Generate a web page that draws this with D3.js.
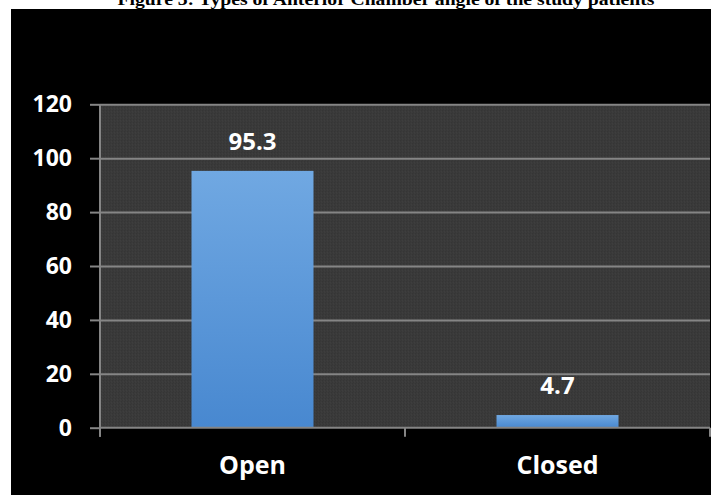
<!DOCTYPE html>
<html>
<head>
<meta charset="utf-8">
<script src="https://cdn.jsdelivr.net/npm/d3@7"></script>
<style>
  html, body { margin: 0; padding: 0; background: #ffffff; }
  svg { display: block; }
</style>
</head>
<body>
<svg id="chart" width="726" height="495"></svg>
<script>
// Anterior chamber angle types (% of patients)
const categories = ["Open", "Closed"];
const percentages = [95.3, 4.7];
const valueLabels = ["95.3", "4.7"];
const yTicks = [0, 20, 40, 60, 80, 100, 120];
const titleText = "Figure 3: Types of Anterior Chamber angle of the study patients";

const W = 726, H = 495;
const margin = { top: 104.3, right: 16, bottom: 67.3, left: 100 };
const innerW = W - margin.left - margin.right;
const innerH = H - margin.top - margin.bottom;

const svg = d3.select("#chart");
const defs = svg.append("defs");

// fine woven texture for the plot area
const pat = defs.append("pattern")
  .attr("id", "weave").attr("patternUnits", "userSpaceOnUse")
  .attr("width", 3).attr("height", 3);
pat.append("rect").attr("width", 3).attr("height", 3).attr("fill", "#3a3a3a");
pat.append("rect").attr("x", 0).attr("y", 0).attr("width", 1).attr("height", 1).attr("fill", "#333333");
pat.append("rect").attr("x", 2).attr("y", 1).attr("width", 1).attr("height", 1).attr("fill", "#404040");
pat.append("rect").attr("x", 1).attr("y", 2).attr("width", 1).attr("height", 1).attr("fill", "#353535");

// bar fill, lighter at the top
const grad = defs.append("linearGradient")
  .attr("id", "barFill").attr("x1", 0).attr("y1", 0).attr("x2", 0).attr("y2", 1);
grad.append("stop").attr("offset", "0%").attr("stop-color", "#70a8e2");
grad.append("stop").attr("offset", "100%").attr("stop-color", "#4888d0");

// caption above the dark panel
svg.append("text")
  .attr("x", 386).attr("y", 4.5)
  .attr("text-anchor", "middle")
  .attr("font-family", "'Liberation Serif', 'Times New Roman', serif")
  .attr("font-weight", "bold")
  .attr("font-size", 16)
  .attr("textLength", 537).attr("lengthAdjust", "spacingAndGlyphs")
  .attr("fill", "#000")
  .text(titleText);

// dark panel
svg.append("rect")
  .attr("x", 11).attr("y", 9).attr("width", 700).attr("height", H - 9)
  .attr("fill", "#000");

const g = svg.append("g").attr("transform", `translate(${margin.left},${margin.top})`);

const x = d3.scaleBand().domain(categories).range([0, innerW])
  .paddingInner(0.6).paddingOuter(0.3);
const y = d3.scaleLinear().domain([0, 120]).range([innerH, 0]);

// plot background
g.append("rect").attr("width", innerW).attr("height", innerH).attr("fill", "url(#weave)");

// horizontal gridlines
g.append("g")
  .call(d3.axisLeft(y).tickValues(yTicks.filter(d => d > 0)).tickSize(-innerW).tickFormat(""))
  .call(s => s.select(".domain").remove())
  .call(s => s.selectAll("line").attr("stroke", "#858585").attr("stroke-width", 2));

// bars
g.selectAll("rect.bar")
  .data(categories)
  .join("rect")
  .attr("class", "bar")
  .attr("x", d => x(d))
  .attr("width", x.bandwidth())
  .attr("y", (d, i) => y(percentages[i]))
  .attr("height", (d, i) => y(0) - y(percentages[i]))
  .attr("fill", "url(#barFill)");

const fontFamily = "'Open Sans', 'Noto Sans', sans-serif";

// value labels
g.selectAll("text.val")
  .data(categories)
  .join("text")
  .attr("class", "val")
  .attr("x", d => x(d) + x.bandwidth() / 2)
  .attr("y", (d, i) => y(percentages[i]) - 21)
  .attr("text-anchor", "middle")
  .attr("font-family", fontFamily).attr("font-weight", "bold").attr("font-size", 24)
  .attr("fill", "#fff")
  .text((d, i) => valueLabels[i]);

// y axis
const yAxis = g.append("g")
  .call(d3.axisLeft(y).tickValues(yTicks).tickSize(10).tickPadding(18).tickFormat(d3.format("d")));
yAxis.select(".domain").remove();
yAxis.selectAll("line").attr("stroke", "#858585").attr("stroke-width", 2);
yAxis.selectAll("text")
  .attr("fill", "#fff").attr("font-family", fontFamily).attr("font-weight", "bold").attr("font-size", 23);
g.append("line")
  .attr("x1", 0).attr("x2", 0).attr("y1", 0).attr("y2", innerH + 9)
  .attr("stroke", "#858585").attr("stroke-width", 2);

// x axis: baseline, boundary ticks and category labels
const xAxis = g.append("g").attr("transform", `translate(0,${innerH})`)
  .call(d3.axisBottom(x).tickSize(0).tickPadding(29));
xAxis.select(".domain").remove();
xAxis.selectAll("text")
  .attr("fill", "#fff").attr("font-family", fontFamily).attr("font-weight", "bold").attr("font-size", 25);
g.append("line")
  .attr("x1", 0).attr("x2", innerW).attr("y1", innerH).attr("y2", innerH)
  .attr("stroke", "#858585").attr("stroke-width", 2);
const boundaries = [0].concat(categories.map(c => x(c) + x.bandwidth() + x.step() * x.paddingInner() / 2));
boundaries[boundaries.length - 1] = innerW;
g.selectAll("line.xtick")
  .data(boundaries)
  .join("line")
  .attr("class", "xtick")
  .attr("x1", d => d).attr("x2", d => d)
  .attr("y1", innerH).attr("y2", innerH + 9)
  .attr("stroke", "#858585").attr("stroke-width", 2);
</script>
</body>
</html>
